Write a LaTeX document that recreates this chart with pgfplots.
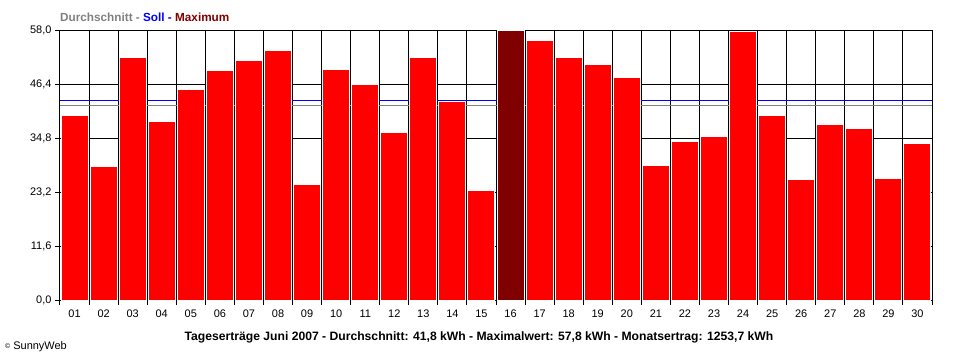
\documentclass[border=0pt]{standalone}
\usepackage{pgfplots}
\pgfplotsset{compat=1.18}
\usepackage{fontspec}
\setmainfont{Liberation Sans}
\definecolor{maxred}{HTML}{800000}
\definecolor{avggray}{HTML}{808080}
\definecolor{sollblue}{HTML}{0000FF}
\begin{document}
\begin{tikzpicture}[x=1bp,y=1bp]
\useasboundingbox (-60,-60) rectangle (900,300);
\begin{axis}[
  at={(0,0)}, anchor=south west, scale only axis,
  width=872bp, height=270bp,
  xmin=0.5, xmax=30.5, ymin=0, ymax=58,
  axis line style={black, line width=1bp},
  tick align=outside, major tick length=5bp,
  tick style={black, line width=1bp},
  xtick pos=bottom, ytick pos=left,
  xtick={0.5,1.5,...,30.5}, xticklabels={},
  extra x ticks={1,2,...,30},
  extra x tick labels={01,02,03,04,05,06,07,08,09,10,11,12,13,14,15,16,17,18,19,20,21,22,23,24,25,26,27,28,29,30},
  extra x tick style={grid=none, major tick length=0pt, tick style={draw=none}},
  ytick={0,11.6,23.2,34.8,46.4,58},
  yticklabels={{0,0},{11,6},{23,2},{34,8},{46,4},{58,0}},
  xmajorgrids, ymajorgrids,
  grid style={black, line width=1bp},
  tick label style={font=\fontsize{11}{13}\selectfont},
  xticklabel style={yshift=-6bp},
]
\addplot[sollblue, line width=1.2bp] coordinates {(0.5,42.8) (30.5,42.8)};
\addplot[avggray, line width=1.2bp] coordinates {(0.5,41.8) (30.5,41.8)};
\addplot[ybar, bar shift=0pt, bar width=0.93, fill=red, draw=white, line width=1bp] coordinates {
(1,39.7) (2,28.6) (3,52.0) (4,38.4) (5,45.2) (6,49.4) (7,51.5) (8,53.7) (9,24.9) (10,49.6)
(11,46.4) (12,35.9) (13,52.2) (14,42.7) (15,23.6) (17,55.8) (18,52.0) (19,50.5) (20,47.7)
(21,29.0) (22,34.1) (23,35.2) (24,57.6) (25,39.7) (26,25.8) (27,37.6) (28,36.9) (29,26.2) (30,33.7)};
\addplot[ybar, bar shift=0pt, bar width=0.93, fill=maxred, draw=white, line width=1bp] coordinates {(16,57.8)};
\end{axis}
\node[anchor=west, font=\bfseries\fontsize{11.8}{13}\selectfont, inner sep=0pt] at (0,283)
  {\textcolor{avggray}{Durchschnitt -} \textcolor{sollblue}{Soll -} \textcolor{maxred}{Maximum}};
\node[font=\bfseries\fontsize{12.2}{14}\selectfont, inner sep=0pt] at (419,-37)
  {Tageserträge Juni 2007 - Durchschnitt: 41,8 kWh - Maximalwert: 57,8 kWh - Monatsertrag: 1253,7 kWh};
\node[anchor=west, font=\fontsize{11}{12}\selectfont, inner sep=0pt] at (-55,-47)
  {{\fontsize{7}{8}\selectfont\raisebox{1.5bp}{©}} SunnyWeb};
\end{tikzpicture}
\end{document}
